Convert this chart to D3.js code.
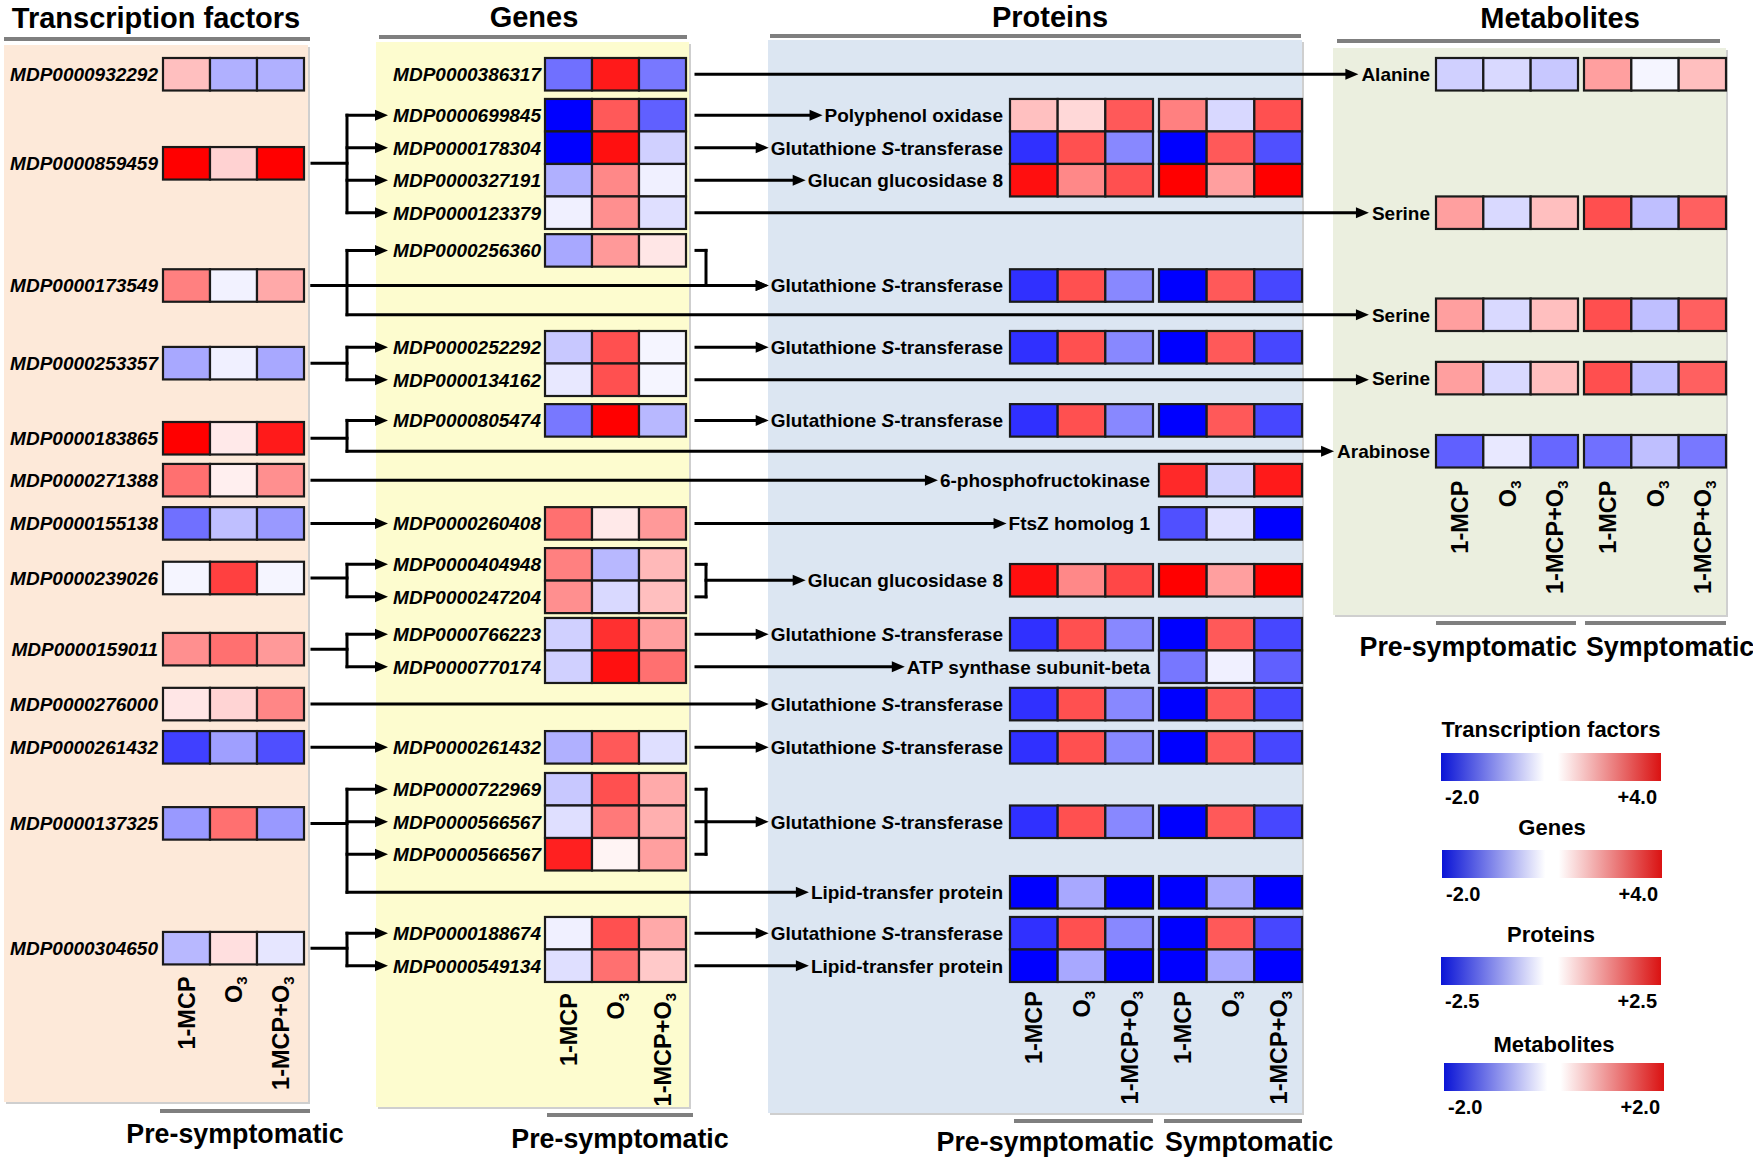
<!DOCTYPE html>
<html><head><meta charset="utf-8">
<script src="https://cdn.jsdelivr.net/npm/d3@7"></script>
<style>
html,body{margin:0;padding:0;background:#fff;}
svg{display:block;font-family:"Liberation Sans",Arial,Helvetica,sans-serif;font-weight:bold;}
</style></head><body>
<svg id="chart" width="1753" height="1158"></svg>
<script>
// ---------------- DATA ----------------
const treatments = ["1-MCP","O3","1-MCP+O3"];
const stages = ["Pre-symptomatic","Symptomatic"];

const tfNames = ["MDP0000932292","MDP0000859459","MDP0000173549","MDP0000253357","MDP0000183865","MDP0000271388","MDP0000155138","MDP0000239026","MDP0000159011","MDP0000276000","MDP0000261432","MDP0000137325","MDP0000304650"];
const tfValues = [
 [1.0,-0.62,-0.62],[4.0,0.7,4.0],[2.0,-0.1,1.35],[-0.68,-0.12,-0.68],[4.0,0.35,3.6],
 [2.25,0.25,1.75],[-1.12,-0.5,-0.8],[-0.08,3.0,-0.08],[1.75,2.25,1.6],[0.4,0.67,1.9],
 [-1.5,-0.75,-1.38],[-0.8,2.25,-0.8],[-0.56,0.5,-0.2]];

const geneNames = ["MDP0000386317","MDP0000699845","MDP0000178304","MDP0000327191","MDP0000123379","MDP0000256360","MDP0000252292","MDP0000134162","MDP0000805474","MDP0000260408","MDP0000404948","MDP0000247204","MDP0000766223","MDP0000770174","MDP0000261432","MDP0000722969","MDP0000566567","MDP0000566567","MDP0000188674","MDP0000549134"];
const geneValues = [
 [-1.12,3.6,-1.06],[-2.0,2.6,-1.25],[-2.0,3.75,-0.37],[-0.62,1.87,-0.12],[-0.12,1.75,-0.25],
 [-0.68,1.6,0.4],[-0.43,2.75,-0.08],[-0.18,2.75,-0.08],[-1.06,4.0,-0.56],[2.25,0.35,1.6],
 [2.0,-0.56,1.1],[1.75,-0.3,1.0],[-0.37,3.25,1.5],[-0.37,3.75,2.25],[-0.62,2.6,-0.25],
 [-0.43,2.75,1.33],[-0.25,2.1,1.25],[3.5,0.17,1.5],[-0.12,2.75,1.35],[-0.25,2.25,0.85]];

const proteinNames = ["Polyphenol oxidase","Glutathione S-transferase","Glucan glucosidase 8","Glutathione S-transferase","Glutathione S-transferase","Glutathione S-transferase","6-phosphofructokinase","FtsZ homolog 1","Glucan glucosidase 8","Glutathione S-transferase","ATP synthase subunit-beta","Glutathione S-transferase","Glutathione S-transferase","Glutathione S-transferase","Lipid-transfer protein","Glutathione S-transferase","Lipid-transfer protein"];
const proteinPre = [
 [0.62,0.38,1.63],[-2.03,1.72,-1.17],[2.35,1.17,1.72],[-2.03,1.72,-1.17],[-2.03,1.72,-1.17],
 [-2.03,1.72,-1.17],null,null,[2.35,1.17,1.8],[-2.03,1.72,-1.17],null,[-2.03,1.72,-1.17],
 [-2.03,1.72,-1.17],[-2.03,1.72,-1.17],[-2.5,-0.85,-2.5],[-2.03,1.72,-1.17],[-2.5,-0.85,-2.5]];
const proteinSym = [
 [1.25,-0.38,1.72],[-2.5,1.63,-1.72],[2.5,0.94,2.5],[-2.5,1.63,-1.8],[-2.5,1.63,-1.8],
 [-2.5,1.63,-1.8],[2.1,-0.46,2.25],[-1.72,-0.3,-2.5],[2.5,0.94,2.5],[-2.5,1.63,-1.8],
 [-1.33,-0.15,-1.56],[-2.5,1.63,-1.8],[-2.5,1.63,-1.8],[-2.5,1.63,-1.8],[-2.5,-0.85,-2.5],
 [-2.5,1.63,-1.8],[-2.5,-0.85,-2.5]];

const metabNames = ["Alanine","Serine","Serine","Serine","Arabinose"];
const metabPre = [[-0.37,-0.3,-0.43],[0.75,-0.3,0.5],[0.75,-0.3,0.5],[0.75,-0.3,0.5],[-1.25,-0.18,-1.19]];
const metabSym = [[0.75,-0.08,0.5],[1.38,-0.5,1.25],[1.38,-0.5,1.25],[1.38,-0.5,1.25],[-1.12,-0.5,-1.06]];

const tfRange = [-2,4], geneRange = [-2,4], proteinRange = [-2.5,2.5], metabRange = [-2,2];
const legendTitles = ["Transcription factors","Genes","Proteins","Metabolites"];
const legendTicks = [["-2.0","+4.0"],["-2.0","+4.0"],["-2.5","+2.5"],["-2.0","+2.0"]];

// links (indices)
const tfBranches = [
 {tf:1, genes:[1,2,3,4]},
 {tf:2, genes:[5], metabs:[2]},
 {tf:3, genes:[6,7]},
 {tf:4, genes:[8], metabs:[4]},
 {tf:6, genes:[9]},
 {tf:7, genes:[10,11]},
 {tf:8, genes:[12,13]},
 {tf:10, genes:[14]},
 {tf:11, genes:[15,16,17], proteins:[14]},
 {tf:12, genes:[18,19]}];
const tfProteinLinks = [[2,3],[5,6],[9,11]];
const geneProteinLinks = [[1,0],[2,1],[3,2],[6,4],[8,5],[9,7],[12,9],[13,10],[14,12],[18,15],[19,16]];
const geneGroupProteinLinks = [[[10,11],8],[[15,16,17],13],[[5],3]];
const geneMetabLinks = [[0,0],[4,1],[7,3]];

// ---------------- LAYOUT (row slots in row units) ----------------
const tfSlots = [0,2.74,6.5,8.89,11.2,12.49,13.82,15.5,17.69,19.38,20.71,23.05,26.89];
const geneSlots = [0,1.26,2.26,3.26,4.26,5.42,8.4,9.4,10.65,13.82,15.08,16.08,17.23,18.23,20.71,22,23,24,26.43,27.43];
const proteinSlots = [1.26,2.26,3.26,6.5,8.4,10.65,12.49,13.82,15.57,17.23,18.23,19.38,20.71,23,25.17,26.43,27.43];
const metabSlots = [0,4.26,7.4,9.35,11.6];

// ---------------- DRAW ----------------
const svg = d3.select("#chart");
const yRow = d3.scaleLinear().domain([0,1]).range([58,90.5]);
const rowH = yRow(1)-yRow(0);
const cy = s => yRow(s)+rowH/2;

const mk = r => d3.scaleLinear().domain([r[0],0,r[1]]).range(["#0000ff","#ffffff","#ff0000"]).clamp(true);
const cTF = mk(tfRange), cGene = mk(geneRange), cProt = mk(proteinRange), cMet = mk(metabRange);

const xTF = d3.scaleBand().domain(treatments).range([163,304]);
const xGene = d3.scaleBand().domain(treatments).range([545,686]);
const xProt = [d3.scaleBand().domain(treatments).range([1010,1153]), d3.scaleBand().domain(treatments).range([1159,1302])];
const xMet = [d3.scaleBand().domain(treatments).range([1436,1578]), d3.scaleBand().domain(treatments).range([1584,1726])];

// panels
const panels = [
 {x0:4,x1:308,y0:45,y1:1102,fill:"#fde9d9"},
 {x0:376,x1:689,y0:42,y1:1107,fill:"#fdfccf"},
 {x0:768,x1:1302,y0:40,y1:1113,fill:"#dce6f2"},
 {x0:1333,x1:1726,y0:48,y1:615,fill:"#ebefdf"}];
const pg = svg.append("g");
panels.forEach(p=>{
  pg.append("rect").attr("x",p.x0+2).attr("y",p.y0+2).attr("width",p.x1-p.x0).attr("height",p.y1-p.y0).attr("fill","#cfcfcf");
  pg.append("rect").attr("x",p.x0).attr("y",p.y0).attr("width",p.x1-p.x0).attr("height",p.y1-p.y0).attr("fill",p.fill);
});

// titles
const titles = [
 {t:"Transcription factors",x:156,y:28,l0:4,l1:310,ly:39},
 {t:"Genes",x:534,y:27,l0:379,l1:687,ly:37},
 {t:"Proteins",x:1050,y:27,l0:770,l1:1301,ly:36},
 {t:"Metabolites",x:1560,y:28,l0:1337,l1:1720,ly:41}];
titles.forEach(d=>{
  svg.append("text").attr("x",d.x).attr("y",d.y).attr("text-anchor","middle").attr("font-size",29).text(d.t);
  svg.append("line").attr("x1",d.l0).attr("x2",d.l1).attr("y1",d.ly).attr("y2",d.ly).attr("stroke","#7f7f7f").attr("stroke-width",4);
});

const linkG = svg.append("g");
const cellG = svg.append("g");
const labG = svg.append("g");
const LW = 3;
function seg(x1,y1,x2,y2){ linkG.append("line").attr("x1",x1).attr("y1",y1).attr("x2",x2).attr("y2",y2).attr("stroke","#000").attr("stroke-width",LW).attr("stroke-linecap","square"); }
function arrow(x1,x2,y){ seg(x1,y,x2-9,y); linkG.append("path").attr("d",`M${x2},${y}L${x2-13},${y-5.5}L${x2-13},${y+5.5}Z`).attr("fill","#000"); }

function cells(xs, slot, vals, color){
  if(!vals) return;
  treatments.forEach((t,i)=>{
    cellG.append("rect").attr("x",xs(t)).attr("y",yRow(slot)).attr("width",xs.bandwidth()).attr("height",rowH)
      .attr("fill",color(vals[i])).attr("stroke","#1a1a1a").attr("stroke-width",2.2);
  });
}
function label(x, y, txt, italic){
  const t = labG.append("text").attr("x",x).attr("y",y).attr("dy","0.36em").attr("text-anchor","end").attr("font-size",19);
  if(italic) t.attr("font-style","italic");
  const m = txt.match(/^(.*\s)S(-.*)$/);
  if(m){ t.append("tspan").text(m[1]); t.append("tspan").attr("font-style","italic").text("S"); t.append("tspan").text(m[2]); }
  else t.text(txt);
  return x - t.node().getComputedTextLength();
}

tfNames.forEach((n,i)=>{ cells(xTF, tfSlots[i], tfValues[i], cTF); label(158, cy(tfSlots[i]), n, true); });
geneNames.forEach((n,i)=>{ cells(xGene, geneSlots[i], geneValues[i], cGene); label(541, cy(geneSlots[i]), n, true); });
const protLeft = proteinNames.map((n,i)=>{
  cells(xProt[0], proteinSlots[i], proteinPre[i], cProt);
  cells(xProt[1], proteinSlots[i], proteinSym[i], cProt);
  return label(proteinPre[i] ? 1003 : 1150, cy(proteinSlots[i]), n, false);
});
const metLeft = metabNames.map((n,i)=>{
  cells(xMet[0], metabSlots[i], metabPre[i], cMet);
  cells(xMet[1], metabSlots[i], metabSym[i], cMet);
  return label(1430, cy(metabSlots[i]), n, false);
});

// links
const TFX = 312, BX = 347, GTIP = 388, GX = 696, BRX = 706;
tfBranches.forEach(b=>{
  const y0 = cy(tfSlots[b.tf]);
  const gys = b.genes.map(g=>cy(geneSlots[g]));
  const mys = (b.metabs||[]).map(m=>cy(metabSlots[m]));
  const pys = (b.proteins||[]).map(p=>cy(proteinSlots[p]));
  if(gys.length===1 && !mys.length && !pys.length){ arrow(TFX, GTIP, y0); return; }
  const all = gys.concat(mys,pys,[y0]);
  seg(TFX,y0,BX,y0);
  seg(BX,d3.min(all),BX,d3.max(all));
  gys.forEach(y=>arrow(BX,GTIP,y));
  (b.metabs||[]).forEach(m=>arrow(BX, metLeft[m]-3, cy(metabSlots[m])));
  (b.proteins||[]).forEach(p=>arrow(BX, protLeft[p]-2, cy(proteinSlots[p])));
});
tfProteinLinks.forEach(([t,p])=>arrow(TFX, protLeft[p]-2, cy(tfSlots[t])));
geneProteinLinks.forEach(([g,p])=>arrow(GX, protLeft[p]-2, cy(geneSlots[g])));
geneGroupProteinLinks.forEach(([gs,p])=>{
  const ys = gs.map(g=>cy(geneSlots[g])); const py = cy(proteinSlots[p]);
  ys.forEach(y=>seg(GX,y,BRX,y));
  seg(BRX, d3.min(ys.concat([py])), BRX, d3.max(ys.concat([py])));
  arrow(BRX, protLeft[p]-2, py);
});
geneMetabLinks.forEach(([g,m])=>arrow(GX, metLeft[m]-3, cy(geneSlots[g])));

// column labels
function colLabels(xs, top){
  treatments.forEach(t=>{
    const xc = xs(t)+xs.bandwidth()/2 + 8.5;
    const tx = labG.append("text").attr("transform",`translate(${xc},${top}) rotate(-90)`).attr("text-anchor","end").attr("font-size",23.5);
    if(t.endsWith("O3")){ tx.append("tspan").text(t.slice(0,-1)); tx.append("tspan").attr("font-size",15).attr("dy",5).text("3"); }
    else tx.text(t);
  });
}
colLabels(xTF, yRow(d3.max(tfSlots)+1)+12);
colLabels(xGene, yRow(d3.max(geneSlots)+1)+11);
colLabels(xProt[0], yRow(d3.max(proteinSlots)+1)+9);
colLabels(xProt[1], yRow(d3.max(proteinSlots)+1)+9);
colLabels(xMet[0], yRow(d3.max(metabSlots)+1)+13);
colLabels(xMet[1], yRow(d3.max(metabSlots)+1)+13);

// stage labels
function stageBar(x0,x1,ly,ty,txt,anchor){
  svg.append("line").attr("x1",x0).attr("x2",x1).attr("y1",ly).attr("y2",ly).attr("stroke","#7f7f7f").attr("stroke-width",4);
  const tx = anchor==="middle" ? (x0+x1)/2 : anchor==="end" ? x1+1 : x0+1;
  svg.append("text").attr("x",tx).attr("y",ty).attr("text-anchor",anchor).attr("font-size",26.8).text(txt);
}
stageBar(160,310,1111,1143,stages[0],"middle");
stageBar(547,693,1115,1148,stages[0],"middle");
stageBar(xProt[0].range()[0]+4,xProt[0].range()[1],1121,1151,stages[0],"end");
stageBar(xProt[1].range()[0]+5,xProt[1].range()[1],1121,1151,stages[1],"start");
stageBar(xMet[0].range()[0],xMet[0].range()[1]-2,623,656,stages[0],"end");
stageBar(xMet[1].range()[0]+1,xMet[1].range()[1],623,656,stages[1],"start");

// legends
const defs = svg.append("defs");
const gr = defs.append("linearGradient").attr("id","bwr");
[[0,"#0a14d6"],[0.47,"#ffffff"],[0.53,"#ffffff"],[1,"#da1212"]].forEach(([o,c])=>gr.append("stop").attr("offset",o).attr("stop-color",c));
const legLayout = [{ty:737,by:753,x0:1441},{ty:835,by:850,x0:1442},{ty:942,by:957,x0:1441},{ty:1052,by:1063,x0:1444}];
legendTitles.forEach((t,i)=>{
  const L = legLayout[i], w = 220, h = 28;
  svg.append("text").attr("x",L.x0+w/2).attr("y",L.ty).attr("text-anchor","middle").attr("font-size",22).text(t);
  svg.append("rect").attr("x",L.x0).attr("y",L.by).attr("width",w).attr("height",h).attr("fill","url(#bwr)");
  svg.append("text").attr("x",L.x0+4).attr("y",L.by+h+23).attr("font-size",20).text(legendTicks[i][0]);
  svg.append("text").attr("x",L.x0+w-4).attr("y",L.by+h+23).attr("text-anchor","end").attr("font-size",20).text(legendTicks[i][1]);
});
</script>
</body></html>
